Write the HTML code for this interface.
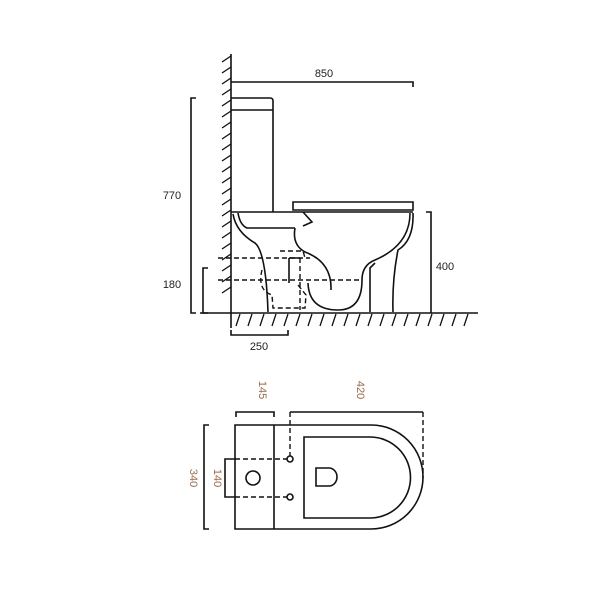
<!DOCTYPE html>
<html><head><style>body{margin:0;background:#fff}svg{display:block}</style></head><body>
<svg width="600" height="600" viewBox="0 0 600 600" xmlns="http://www.w3.org/2000/svg" font-family="Liberation Sans, sans-serif">
<rect width="600" height="600" fill="#fff"/>
<g stroke="#111" stroke-width="1.6" fill="none">
<line x1="231" y1="54" x2="231" y2="328"/>
<g stroke-width="1.3">
<line x1="222" y1="62" x2="231" y2="56"/><line x1="222" y1="73" x2="231" y2="67"/><line x1="222" y1="84" x2="231" y2="78"/><line x1="222" y1="95" x2="231" y2="89"/><line x1="222" y1="106" x2="231" y2="100"/><line x1="222" y1="117" x2="231" y2="111"/><line x1="222" y1="128" x2="231" y2="122"/><line x1="222" y1="139" x2="231" y2="133"/><line x1="222" y1="150" x2="231" y2="144"/><line x1="222" y1="161" x2="231" y2="155"/><line x1="222" y1="172" x2="231" y2="166"/><line x1="222" y1="183" x2="231" y2="177"/><line x1="222" y1="194" x2="231" y2="188"/><line x1="222" y1="205" x2="231" y2="199"/><line x1="222" y1="216" x2="231" y2="210"/><line x1="222" y1="227" x2="231" y2="221"/><line x1="222" y1="238" x2="231" y2="232"/><line x1="222" y1="249" x2="231" y2="243"/><line x1="222" y1="260" x2="231" y2="254"/><line x1="222" y1="271" x2="231" y2="265"/><line x1="222" y1="282" x2="231" y2="276"/><line x1="222" y1="293" x2="231" y2="287"/>
</g>
<line x1="200" y1="313" x2="478" y2="313"/>
<g stroke-width="1.3">
<path d="M236 326l4-12M248 326l4-12M260 326l4-12M272 326l4-12M284 326l4-12M296 326l4-12M308 326l4-12M320 326l4-12M332 326l4-12M344 326l4-12M356 326l4-12M368 326l4-12M380 326l4-12M392 326l4-12M404 326l4-12M416 326l4-12M428 326l4-12M440 326l4-12M452 326l4-12M464 326l4-12"/>
</g>
<path d="M231 82H413V87"/>
<path d="M196 98H191V313H196"/>
<path d="M208 268H203V313H208"/>
<path d="M426 212H431V313"/>
<path d="M231 330V335H288V330"/>
<path d="M231 98H270Q273 98 273 101V212"/>
<line x1="231" y1="110" x2="273" y2="110"/>
<path d="M293 202H413V210H293Z"/>
<line x1="231" y1="212" x2="413" y2="212"/>
<path d="M238 213Q240 225 247 228H295"/>
<path d="M303 212L312 222L303 226"/>
<path d="M233 214Q236 232 255 243Q266 252 268 312"/>
<path d="M410 213Q410 245 375 260Q362 265 362 280Q362 310 338 310Q309 310 308 283"/>
<path d="M295 228Q292 245 305 252Q332 262 331 290"/>
<path d="M413 213Q414 240 398 250Q392 280 393 312"/>
<path d="M375 263L370 268V312"/>
<g stroke-dasharray="5,3" stroke-width="1.4">
<line x1="218" y1="258" x2="310" y2="258"/>
<line x1="218" y1="280" x2="362" y2="280"/>
<path d="M280 251L303 251L305 258"/>
<path d="M262 270Q257 290 272 295L273 308H305L306 295L298 285"/>
<path d="M300 258V310"/>
</g>
<path d="M289 258V283M289 258H300" stroke-width="1.6"/>
<path d="M235 425H371A52 52 0 0 1 371 529H235Z"/>
<line x1="274" y1="425" x2="274" y2="529"/>
<path d="M304 437H370A40 40 0 0 1 370 518H304Z"/>
<circle cx="253" cy="478" r="7"/>
<path d="M316 468H329A8 9 0 0 1 329 486H316Z"/>
<path d="M235 459H225V497H235"/>
<g stroke-dasharray="5,3" stroke-width="1.4">
<line x1="235" y1="459" x2="287" y2="459"/>
<line x1="235" y1="497" x2="287" y2="497"/>
<line x1="290" y1="412" x2="290" y2="456"/>
<line x1="423" y1="412" x2="423" y2="478"/>
</g>
<circle cx="290" cy="459" r="3"/>
<circle cx="290" cy="497" r="3"/>
<path d="M236 417V412H274V417"/>
<path d="M290 412H423"/>
<path d="M209 425H204V529H209"/>
</g>
<g font-size="11" fill="#222" stroke="none">
<text x="324" y="77" text-anchor="middle">850</text>
<text x="172" y="199" text-anchor="middle">770</text>
<text x="172" y="288" text-anchor="middle">180</text>
<text x="445" y="270" text-anchor="middle">400</text>
<text x="259" y="350" text-anchor="middle">250</text>
</g>
<g font-size="11" fill="#9a6a4a">
<text transform="translate(259,390) rotate(90)" text-anchor="middle">145</text>
<text transform="translate(357,390) rotate(90)" text-anchor="middle">420</text>
<text transform="translate(190,478) rotate(90)" text-anchor="middle">340</text>
<text transform="translate(214,478) rotate(90)" text-anchor="middle">140</text>
</g>
</svg>
</body></html>
